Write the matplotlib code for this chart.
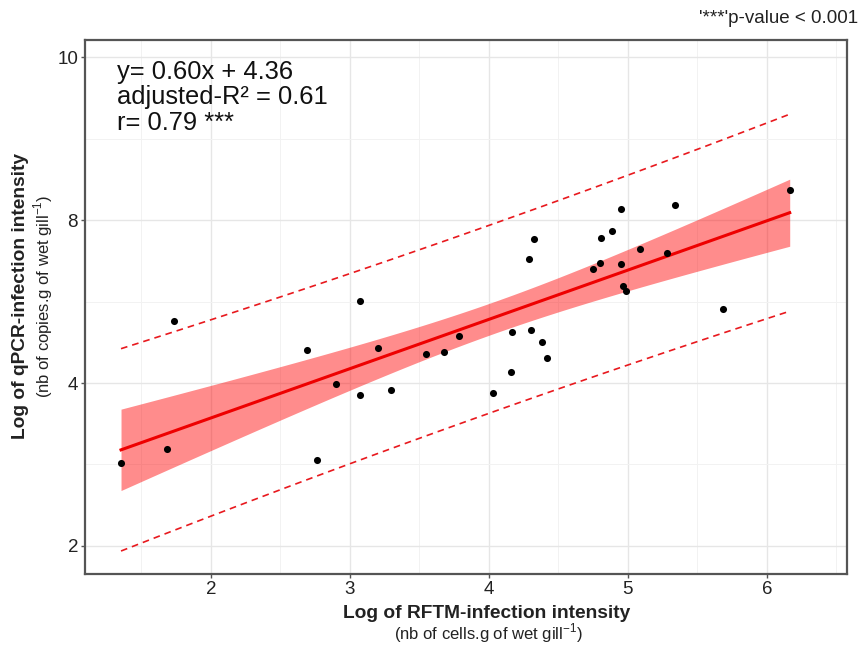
import numpy as np
import matplotlib
matplotlib.use("Agg")
from matplotlib import pyplot as plt

plt.rcParams['font.family'] = ['Liberation Sans', 'DejaVu Sans']
plt.rcParams['mathtext.fontset'] = 'custom'
plt.rcParams['mathtext.rm'] = 'Liberation Sans'

# data
rftm = [1.353, 1.683, 1.734, 2.691, 2.763, 2.899, 3.072, 3.072, 3.201, 3.295,
        3.547, 3.676, 3.784, 4.029, 4.158, 4.165, 4.302, 4.381, 4.417, 4.288,
        4.324, 4.748, 4.799, 4.806, 4.885, 4.950, 4.950, 4.964, 4.986, 5.086,
        5.281, 5.338, 5.683, 6.165]
qpcr = [5.018, 5.190, 6.761, 6.405, 5.055, 5.988, 7.006, 5.853, 6.429, 5.914,
        6.356, 6.380, 6.577, 5.877, 6.135, 6.626, 6.650, 6.503, 6.307, 7.521,
        7.767, 7.399, 7.472, 7.779, 7.865, 8.135, 7.460, 7.190, 7.129, 7.644,
        7.595, 8.184, 6.908, 8.368]

# y axis labels as printed on the original figure
Y_TICKS = [4, 6, 8, 10]
Y_TICK_LABELS = ["2", "4", "8", "10"]
X_TICKS = [2, 3, 4, 5, 6]

EQ_LINES = ["y= 0.60x + 4.36", "adjusted-R\u00b2 = 0.61", "r= 0.79 ***"]
PVAL_TEXT = "'***'p-value < 0.001"
T_975 = 2.037  # t quantile, df = n-2

x = np.array(rftm)
y = np.array(qpcr)
n = len(x)

# linear fit + confidence / prediction intervals
b1, b0 = np.polyfit(x, y, 1)
resid = y - (b0 + b1 * x)
s = np.sqrt(np.sum(resid ** 2) / (n - 2))
xx = np.linspace(x.min(), x.max(), 100)
yy = b0 + b1 * xx
sxx = np.sum((x - x.mean()) ** 2)
se_fit = s * np.sqrt(1.0 / n + (xx - x.mean()) ** 2 / sxx)
se_pred = s * np.sqrt(1 + 1.0 / n + (xx - x.mean()) ** 2 / sxx)

fig = plt.figure(figsize=(8.65, 6.46), dpi=100)
ax = fig.add_axes([0.0983, 0.1115, 0.8807, 0.8265])

ax.fill_between(xx, yy - T_975 * se_fit, yy + T_975 * se_fit,
                color='#ff0000', alpha=0.45, linewidth=0, zorder=2)
ax.plot(xx, yy, color='#ee0000', linewidth=2.2, zorder=3)
ax.plot(xx, yy + T_975 * se_pred, color='#e8191e', linestyle=(0, (4, 3)),
        linewidth=1.2, zorder=3)
ax.plot(xx, yy - T_975 * se_pred, color='#e8191e', linestyle=(0, (4, 3)),
        linewidth=1.2, zorder=3)
ax.scatter(x, y, s=26, color='black', zorder=4, linewidths=0)

ax.set_xlim(1.094, 6.576)
ax.set_ylim(3.656, 10.21)
ax.set_xticks(X_TICKS)
ax.set_xticklabels([str(v) for v in X_TICKS])
ax.set_yticks(Y_TICKS)
ax.set_yticklabels(Y_TICK_LABELS)
ax.set_xticks(np.arange(1.5, 6.6, 1.0), minor=True)
ax.set_yticks([5, 7, 9], minor=True)
ax.grid(which='major', color='#e6e6e6', linewidth=1.0, zorder=0)
ax.grid(which='minor', color='#f2f2f2', linewidth=0.7, zorder=0)
ax.set_axisbelow(True)
ax.tick_params(which='major', length=3, width=1, color='#555555',
               labelsize=13.5, labelcolor='#222222', pad=2)
ax.tick_params(which='minor', length=0)
for sp in ax.spines.values():
    sp.set_color('#555555')
    sp.set_linewidth(1.6)

# equation block, one line per text
for i, line in enumerate(EQ_LINES):
    ax.text(0.042, 0.927 - i * 0.0475, line, transform=ax.transAxes,
            fontsize=18.4, va='baseline', ha='left', color='#111111')

fig.text(0.992, 0.972, PVAL_TEXT, ha='right', va='center', fontsize=13.5,
         color='#222222')

fig.text(0.562, 0.0433, "Log of RFTM-infection intensity", ha='center',
         va='baseline', fontsize=13.8, fontweight='bold', color='#222222')
fig.text(0.565, 0.0108, r"(nb of cells.g of wet gill$^{\mathrm{-1}}$)",
         ha='center', va='baseline', fontsize=12.0, color='#222222')
fig.text(0.024, 0.542, "Log of qPCR-infection intensity", ha='center',
         va='center', rotation=90, fontsize=13.8, fontweight='bold',
         color='#222222')
fig.text(0.050, 0.542, r"(nb of copies.g of wet gill$^{\mathrm{-1}}$)",
         ha='center', va='center', rotation=90, fontsize=12.0, color='#222222')

fig.savefig("out.png", dpi=100)
